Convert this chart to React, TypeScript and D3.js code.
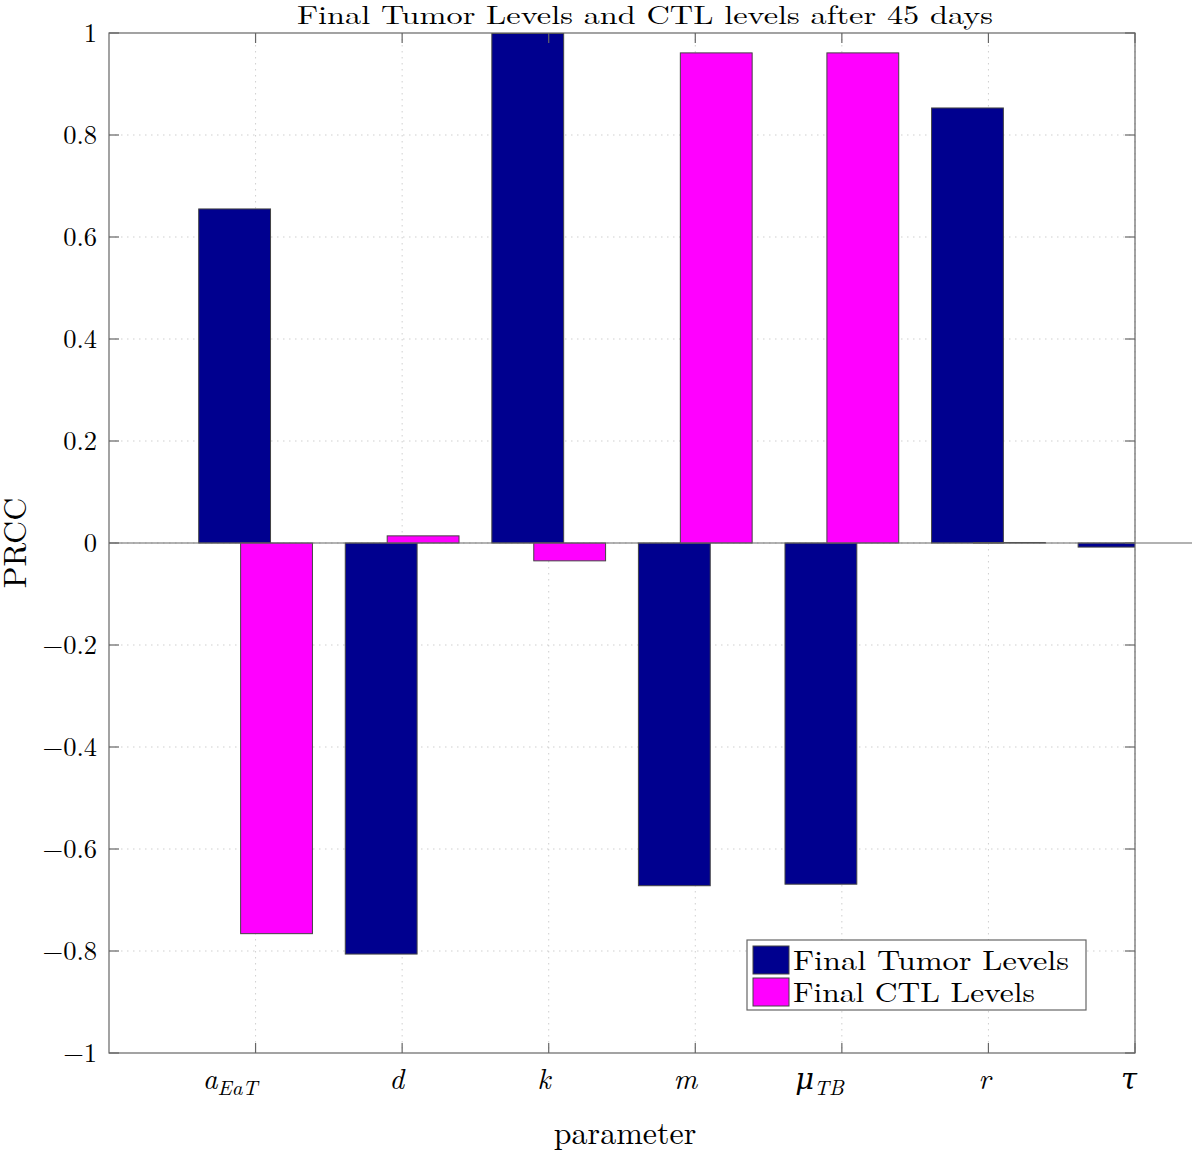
import * as d3 from "d3";
import {useRef, useEffect} from "react";

const params = ["aEaT", "d", "k", "m", "muTB", "r", "tau"];
const tumorLevels = [0.655, -0.806, 0.999, -0.672, -0.669, 0.853, -0.008];
const ctlLevels = [-0.766, 0.014, -0.035, 0.961, 0.961, 0.001, 0.0];
const yTicks = [-1, -0.8, -0.6, -0.4, -0.2, 0, 0.2, 0.4, 0.6, 0.8, 1];
const seriesNames = ["Final Tumor Levels", "Final CTL Levels"];
const seriesColors = ["#00008f", "#ff00ff"];

const FONT = "'Latin Modern Roman', 'CMU Serif', 'DejaVu Serif', serif";

export default function App() {
    const svgRef = useRef<SVGSVGElement>(null);
    const W = 1192, H = 1154;
    const margin = {top: 33, right: 57, bottom: 101, left: 109};
    const width = W - margin.left - margin.right;
    const height = H - margin.top - margin.bottom;

    useEffect(() => {
        const root = d3.select(svgRef.current);
        root.selectAll("*").remove();
        root.attr("width", W).attr("height", H);

        const svg = root.append("g")
            .attr("transform", `translate(${margin.left},${margin.top})`);

        const x = d3.scaleLinear().domain([0, params.length]).range([0, width]);
        const y = d3.scaleLinear().domain([-1, 1]).range([height, 0]);
        const barW = 0.49;
        const offset = 0.143;

        root.append("defs").append("clipPath").attr("id", "plotclip")
            .append("rect").attr("width", width).attr("height", height);

        // grid
        const grid = svg.append("g")
            .attr("stroke", "#cfcfcf").attr("stroke-width", 1)
            .attr("stroke-dasharray", "1.5,4.5");
        grid.selectAll("line.gy").data(yTicks.slice(1, -1)).join("line")
            .attr("x1", 0).attr("x2", width)
            .attr("y1", d => y(d)).attr("y2", d => y(d));
        grid.selectAll("line.gx").data(params).join("line")
            .attr("x1", (_, i) => x(i + 1)).attr("x2", (_, i) => x(i + 1))
            .attr("y1", 0).attr("y2", height);

        // bars
        const bars = svg.append("g").attr("clip-path", "url(#plotclip)");
        const series = [tumorLevels, ctlLevels];
        series.forEach((vals, s) => {
            const dx = s === 0 ? -offset : offset;
            bars.append("g").selectAll("rect").data(vals).join("rect")
                .attr("x", (_, i) => x(i + 1 + dx - barW / 2))
                .attr("width", x(barW) - x(0))
                .attr("y", d => y(Math.max(0, d)))
                .attr("height", d => Math.abs(y(d) - y(0)))
                .attr("fill", seriesColors[s])
                .attr("stroke", "#444")
                .attr("stroke-width", 1);
        });

        // zero baseline
        svg.append("line")
            .attr("x1", 0).attr("x2", W - margin.left)
            .attr("y1", y(0)).attr("y2", y(0))
            .attr("stroke", "#666").attr("stroke-width", 1.2);

        // frame and ticks
        const axisColor = "#666";
        svg.append("rect").attr("width", width).attr("height", height)
            .attr("fill", "none").attr("stroke", axisColor).attr("stroke-width", 1.2);
        const tickLen = 10;
        const ticks = svg.append("g").attr("stroke", axisColor).attr("stroke-width", 1.2);
        yTicks.forEach(t => {
            ticks.append("line").attr("x1", 0).attr("x2", tickLen).attr("y1", y(t)).attr("y2", y(t));
            ticks.append("line").attr("x1", width - tickLen).attr("x2", width).attr("y1", y(t)).attr("y2", y(t));
        });
        params.forEach((_, i) => {
            ticks.append("line").attr("x1", x(i + 1)).attr("x2", x(i + 1)).attr("y1", height).attr("y2", height - tickLen);
            ticks.append("line").attr("x1", x(i + 1)).attr("x2", x(i + 1)).attr("y1", 0).attr("y2", tickLen);
        });

        // y tick labels
        svg.append("g").selectAll("text").data(yTicks).join("text")
            .attr("x", -12).attr("y", d => y(d) + 9)
            .attr("text-anchor", "end")
            .attr("font-family", FONT).attr("font-size", 26.5)
            .text(d => (d < 0 ? "\u2212" : "") + d3.format("")(Math.abs(d)));

        // x tick labels (right-aligned at the tick, as in the source)
        const xl = svg.append("g").attr("font-family", FONT).attr("font-size", 29)
            .attr("font-style", "italic").attr("text-anchor", "end");
        params.forEach((p, i) => {
            const t = xl.append("text").attr("x", x(i + 1) + 2).attr("y", height + 36);
            if (p === "aEaT") {
                t.append("tspan").text("a");
                t.append("tspan").attr("font-size", 21).attr("dy", 6).text("EaT");
            } else if (p === "muTB") {
                t.append("tspan").text("\u03bc");
                t.append("tspan").attr("font-size", 21).attr("dy", 6).text("TB");
            } else if (p === "tau") {
                t.text("\u03c4");
            } else {
                t.text(p);
            }
        });

        // axis labels and title
        root.append("text")
            .attr("x", 625).attr("y", 1144)
            .attr("text-anchor", "middle")
            .attr("font-family", FONT).attr("font-size", 32)
            .text("parameter");
        root.append("text")
            .attr("transform", `translate(26,${margin.top + height / 2}) rotate(-90)`)
            .attr("text-anchor", "middle")
            .attr("font-family", FONT).attr("font-size", 32)
            .text("PRCC");
        root.append("text")
            .attr("x", 297).attr("y", 24)
            .attr("font-family", FONT).attr("font-size", 26)
            .attr("textLength", 696).attr("lengthAdjust", "spacingAndGlyphs")
            .text("Final Tumor Levels and CTL levels after 45 days");

        // legend
        const lg = root.append("g").attr("transform", "translate(747,940)");
        lg.append("rect").attr("width", 339).attr("height", 70)
            .attr("fill", "white").attr("stroke", "#666").attr("stroke-width", 1.2);
        seriesNames.forEach((name, i) => {
            lg.append("rect").attr("x", 6).attr("y", 6 + i * 32).attr("width", 36).attr("height", 28)
                .attr("fill", seriesColors[i]).attr("stroke", "#444");
            lg.append("text").attr("x", 46).attr("y", 30 + i * 32)
                .attr("font-family", FONT).attr("font-size", 28)
                .attr("textLength", i === 0 ? 276 : 242).attr("lengthAdjust", "spacingAndGlyphs")
                .text(name);
        });
    }, []);

    return (
        <svg ref={svgRef} style={{position: "absolute", left: 0, top: 0, background: "white"}} />
    );
}
